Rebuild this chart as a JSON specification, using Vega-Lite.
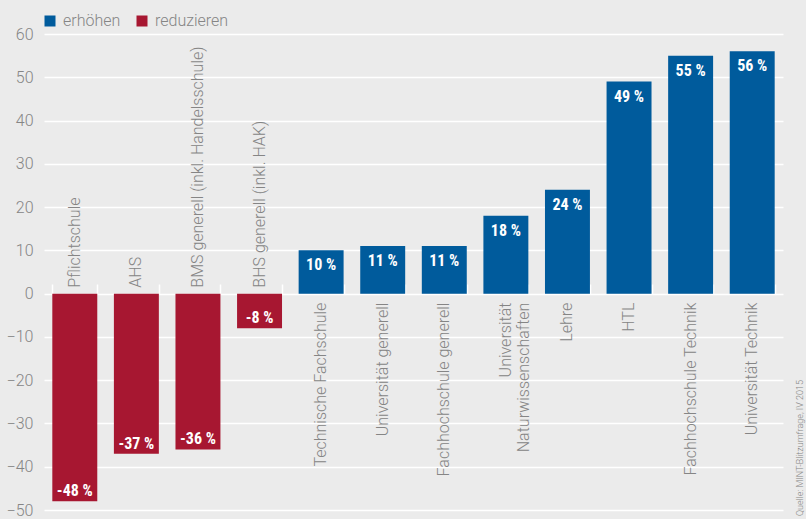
{
  "$schema": "https://vega.github.io/schema/vega-lite/v6.json",
  "width": 739,
  "height": 476,
  "autosize": {"type": "none"},
  "padding": {"left": 44, "top": 34, "right": 23, "bottom": 9},
  "background": "#ebebeb",
  "config": {"view": {"stroke": null}, "font": "Roboto"},
  "data": {
    "values": [
      {"kategorie": "Pflichtschule", "wert": -48, "richtung": "reduzieren"},
      {"kategorie": "AHS", "wert": -37, "richtung": "reduzieren"},
      {"kategorie": "BMS generell (inkl. Handelsschule)", "wert": -36, "richtung": "reduzieren"},
      {"kategorie": "BHS generell (inkl. HAK)", "wert": -8, "richtung": "reduzieren"},
      {"kategorie": "Technische Fachschule", "wert": 10, "richtung": "erhöhen"},
      {"kategorie": "Universität generell", "wert": 11, "richtung": "erhöhen"},
      {"kategorie": "Fachhochschule generell", "wert": 11, "richtung": "erhöhen"},
      {"kategorie": "Universität\nNaturwissenschaften", "wert": 18, "richtung": "erhöhen"},
      {"kategorie": "Lehre", "wert": 24, "richtung": "erhöhen"},
      {"kategorie": "HTL", "wert": 49, "richtung": "erhöhen"},
      {"kategorie": "Fachhochschule Technik", "wert": 55, "richtung": "erhöhen"},
      {"kategorie": "Universität Technik", "wert": 56, "richtung": "erhöhen"}
    ]
  },
  "transform": [{"calculate": "datum.wert + ' %'", "as": "label"}],
  "encoding": {
    "x": {
      "field": "kategorie",
      "type": "nominal",
      "sort": null,
      "scale": {"paddingInner": 0.27, "paddingOuter": 0.135},
      "axis": {
        "orient": "top",
        "offset": -260,
        "labels": false,
        "title": null,
        "domain": false,
        "ticks": true,
        "tickBand": "extent",
        "tickSize": 10,
        "tickColor": "white",
        "tickWidth": 1.5
      }
    }
  },
  "layer": [
    {
      "mark": {"type": "bar"},
      "encoding": {
        "y": {
          "field": "wert",
          "type": "quantitative",
          "scale": {"domain": [-50, 60], "nice": false},
          "axis": {
            "title": null,
            "values": [-50, -40, -30, -20, -10, 0, 10, 20, 30, 40, 50, 60],
            "grid": true,
            "gridColor": "white",
            "gridWidth": 1.5,
            "domain": false,
            "ticks": false,
            "labelColor": "#858585",
            "labelFontSize": 16,
            "labelFont": "Roboto",
            "labelFontWeight": 300,
            "labelPadding": 11
          }
        },
        "color": {
          "field": "richtung",
          "type": "nominal",
          "scale": {"domain": ["erhöhen", "reduzieren"], "range": ["#005b9c", "#a71731"]},
          "legend": {
            "title": null,
            "orient": "none",
            "direction": "horizontal",
            "legendX": -2,
            "legendY": -21,
            "padding": 0,
            "symbolType": "square",
            "symbolSize": 121,
            "symbolStrokeWidth": 0,
            "symbolOpacity": 1,
            "labelFontSize": 16,
            "labelFont": "Roboto",
            "labelFontWeight": 300,
            "labelColor": "#858585",
            "labelOffset": 5,
            "columnPadding": 13
          }
        }
      }
    },
    {
      "transform": [{"filter": "datum.wert < 0"}],
      "mark": {"type": "text", "angle": 270, "align": "left", "baseline": "middle", "dx": 6, "fontSize": 16, "font": "Roboto", "fontWeight": 300, "color": "#858585", "lineBreak": "\n"},
      "encoding": {"y": {"datum": 0}, "text": {"field": "kategorie"}}
    },
    {
      "transform": [{"filter": "datum.wert > 0"}],
      "mark": {"type": "text", "angle": 270, "align": "right", "baseline": "middle", "dx": -9, "fontSize": 16, "font": "Roboto", "fontWeight": 300, "color": "#858585", "lineBreak": "\n"},
      "encoding": {"y": {"datum": 0}, "text": {"field": "kategorie"}}
    },
    {
      "transform": [{"filter": "datum.wert < 0"}],
      "mark": {"type": "text", "baseline": "alphabetic", "dy": -5, "fontSize": 16, "font": "Liberation Sans Narrow, Roboto Condensed, Arial Narrow, sans-serif", "fontWeight": "bold", "color": "white"},
      "encoding": {"y": {"field": "wert", "type": "quantitative"}, "text": {"field": "label"}}
    },
    {
      "transform": [{"filter": "datum.wert > 0"}],
      "mark": {"type": "text", "baseline": "alphabetic", "dy": 20, "fontSize": 16, "font": "Liberation Sans Narrow, Roboto Condensed, Arial Narrow, sans-serif", "fontWeight": "bold", "color": "white"},
      "encoding": {"y": {"field": "wert", "type": "quantitative"}, "text": {"field": "label"}}
    },
    {
      "data": {"values": [{"quelle": "Quelle: MINT-Blitzumfrage, IV 2015", "kategorie": "Universität Technik"}]},
      "mark": {"type": "text", "angle": 270, "align": "left", "baseline": "middle", "dx": -6, "dy": 48, "fontSize": 9, "font": "Roboto", "fontWeight": 300, "color": "#858585"},
      "encoding": {"y": {"datum": -50}, "text": {"field": "quelle"}}
    }
  ]
}
